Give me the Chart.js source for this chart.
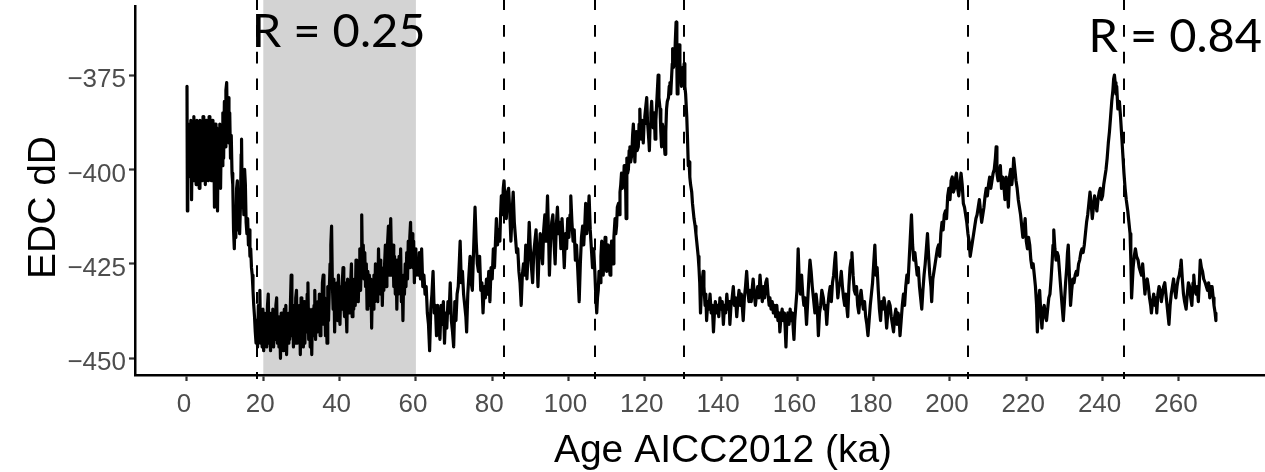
<!DOCTYPE html>
<html>
<head>
<meta charset="utf-8">
<script src="https://cdn.jsdelivr.net/npm/chart.js@4.4.1/dist/chart.umd.min.js"></script>
<style>
  html, body { margin: 0; padding: 0; background: #fff; }
  canvas { display: block; }
</style>
</head>
<body>
<canvas id="edcChart" width="1265" height="472"></canvas>
<script>
// EDC deuterium record, [age ka, dD permil]
const dD_0to60 = [
  [0.0,-378],[0.1,-411],[0.2,-390],[0.4,-402],[0.6,-388],[0.8,-401],[1.0,-387],[1.2,-408],[1.4,-389],[1.6,-403],
  [1.8,-386],[2.0,-400],[2.2,-388],[2.4,-404],[2.6,-387],[2.8,-401],[3.0,-389],[3.2,-405],[3.4,-387],[3.6,-400],
  [3.8,-388],[4.0,-403],[4.2,-386],[4.4,-401],[4.6,-389],[4.8,-404],[5.0,-387],[5.2,-399],[5.4,-388],[5.6,-403],
  [5.8,-386],[6.0,-402],[6.2,-389],[6.4,-403],[6.6,-387],[6.8,-400],[7.0,-390],[7.2,-410],[7.4,-388],[7.6,-402],
  [7.8,-389],[8.0,-411],[8.2,-390],[8.4,-401],[8.6,-388],[8.8,-405],[9.0,-390],[9.2,-399],[9.4,-385],[9.6,-397],
  [9.8,-382],[10.0,-394],[10.2,-379],[10.4,-377],[10.6,-390],[10.8,-381],[11.0,-393],[11.2,-385],[11.4,-397],[11.6,-391],
  [11.8,-401],[12.0,-404],[12.2,-416],[12.4,-421],[12.6,-412],[12.8,-418],[13.0,-405],[13.2,-403],[13.4,-416],[13.6,-411],
  [13.8,-417],[14.0,-410],[14.2,-396],[14.3,-392],[14.5,-410],[14.7,-406],[14.9,-412],[15.1,-400],[15.3,-404],[15.5,-414],
  [15.7,-417],[15.9,-413],[16.1,-420],[16.3,-416],[16.5,-423],[16.7,-421],[16.9,-426],[17.1,-428],[17.3,-432],[17.5,-436],
  [17.7,-439],[17.9,-443],[18.1,-446],[18.3,-441],[18.5,-447],[18.7,-436],[18.9,-445],[19.1,-432],[19.3,-446],[19.5,-439],
  [19.7,-447],[19.9,-437],[20.1,-448],[20.3,-438],[20.5,-445],[20.7,-440],[20.9,-447],[21.1,-436],[21.3,-433],[21.5,-446],
  [21.7,-439],[21.9,-448],[22.1,-438],[22.3,-446],[22.5,-437],[22.7,-447],[22.9,-440],[23.1,-445],[23.3,-436],[23.5,-434],
  [23.7,-446],[23.9,-439],[24.1,-447],[24.3,-441],[24.5,-450],[24.7,-438],[24.9,-447],[25.1,-440],[25.3,-448],[25.5,-437],
  [25.7,-446],[25.9,-436],[26.1,-449],[26.3,-440],[26.5,-446],[26.7,-438],[26.9,-445],[27.1,-436],[27.3,-428],[27.5,-444],
  [27.7,-437],[27.9,-447],[28.1,-436],[28.3,-446],[28.5,-434],[28.7,-432],[28.9,-446],[29.1,-437],[29.3,-445],[29.5,-436],
  [29.7,-449],[29.9,-434],[30.1,-444],[30.3,-437],[30.5,-447],[30.7,-435],[30.9,-446],[31.1,-436],[31.3,-443],[31.5,-433],
  [31.7,-430],[31.9,-445],[32.1,-437],[32.3,-447],[32.5,-438],[32.7,-449],[32.9,-437],[33.1,-444],[33.3,-436],[33.5,-432],
  [33.7,-445],[33.9,-436],[34.1,-443],[34.3,-435],[34.5,-442],[34.7,-433],[34.9,-444],[35.1,-435],[35.3,-441],[35.5,-430],
  [35.7,-428],[35.9,-441],[36.1,-434],[36.3,-444],[36.5,-435],[36.7,-446],[36.9,-431],[37.1,-440],[37.3,-432],[37.5,-425],
  [37.7,-420],[37.9,-415],[38.1,-430],[38.3,-437],[38.5,-429],[38.7,-443],[38.9,-431],[39.1,-438],[39.3,-430],[39.5,-440],
  [39.7,-428],[39.9,-437],[40.1,-441],[40.3,-431],[40.5,-437],[40.7,-430],[40.9,-426],[41.1,-436],[41.3,-439],[41.5,-430],
  [41.7,-437],[41.9,-443],[42.1,-429],[42.3,-436],[42.5,-431],[42.7,-438],[42.9,-430],[43.1,-425],[43.3,-439],[43.5,-431],
  [43.7,-437],[43.9,-429],[44.1,-436],[44.3,-424],[44.5,-434],[44.7,-428],[44.9,-435],[45.1,-427],[45.3,-421],[45.5,-432],
  [45.7,-424],[45.8,-412],[46.0,-426],[46.2,-420],[46.4,-429],[46.6,-422],[46.8,-431],[47.0,-425],[47.2,-437],[47.4,-427],
  [47.6,-434],[47.8,-428],[48.0,-436],[48.2,-429],[48.4,-442],[48.6,-430],[48.8,-437],[49.0,-428],[49.2,-435],[49.4,-425],
  [49.6,-433],[49.8,-428],[50.0,-435],[50.2,-421],[50.4,-430],[50.6,-424],[50.8,-433],[51.0,-426],[51.2,-436],[51.4,-427],
  [51.6,-432],[51.8,-425],[52.0,-420],[52.2,-431],[52.4,-425],[52.6,-419],[52.8,-415],[53.0,-428],[53.2,-421],[53.4,-413],
  [53.6,-424],[53.8,-428],[54.0,-420],[54.2,-431],[54.4,-423],[54.6,-433],[54.8,-424],[55.0,-437],[55.2,-426],[55.4,-433],
  [55.6,-423],[55.8,-430],[56.0,-421],[56.2,-435],[56.4,-429],[56.6,-440],[56.8,-428],[57.0,-433],[57.2,-425],[57.4,-431],
  [57.6,-422],[57.8,-429],[58.0,-419],[58.2,-426],[58.4,-418],[58.6,-414],[58.8,-424],[59.0,-417],[59.2,-426],[59.4,-419],
  [59.6,-430],[59.8,-421],[60.0,-428]
];

const dD_60to106 = [
  [60.3,-424],[60.6,-428],[60.9,-422],[61.2,-429],[61.5,-421],[61.8,-431],[62.1,-428],[62.4,-433],[62.7,-431],[63.0,-438],
  [63.3,-441],[63.6,-448],[63.9,-437],[64.2,-433],[64.5,-427],[64.8,-438],[65.1,-436],[65.4,-444],[65.7,-436],[66.0,-441],
  [66.3,-445],[66.6,-436],[66.9,-441],[67.2,-435],[67.5,-446],[67.8,-438],[68.1,-442],[68.4,-435],[68.7,-438],[69.0,-430],
  [69.3,-440],[69.6,-443],[69.9,-447],[70.2,-435],[70.5,-440],[70.8,-433],[71.1,-431],[71.4,-424],[71.6,-419],[71.9,-430],
  [72.2,-427],[72.5,-433],[72.8,-436],[73.1,-439],[73.3,-443],[73.6,-433],[73.9,-428],[74.2,-423],[74.5,-430],[74.8,-432],
  [75.1,-422],[75.3,-416],[75.5,-410],[75.8,-419],[76.1,-425],[76.4,-427],[76.7,-423],[77.0,-432],[77.3,-430],[77.6,-438],
  [77.9,-431],[78.2,-434],[78.5,-429],[78.8,-433],[79.1,-427],[79.4,-435],[79.7,-426],[80.0,-429],[80.3,-421],[80.6,-426],
  [80.9,-418],[81.1,-413],[81.4,-420],[81.7,-416],[82.0,-419],[82.2,-412],[82.4,-407],[82.7,-412],[82.9,-405],[83.1,-403],
  [83.4,-410],[83.7,-413],[84.0,-406],[84.3,-405],[84.6,-411],[84.9,-419],[85.2,-412],[85.5,-406],[85.8,-414],[86.1,-418],
  [86.4,-422],[86.7,-421],[87.0,-427],[87.3,-430],[87.6,-436],[87.9,-428],[88.2,-425],[88.5,-428],[88.8,-420],[89.1,-429],
  [89.4,-423],[89.7,-414],[90.0,-421],[90.3,-426],[90.6,-430],[90.9,-422],[91.2,-419],[91.5,-416],[91.8,-425],[92.0,-431],
  [92.3,-422],[92.6,-417],[92.9,-421],[93.2,-425],[93.5,-416],[93.8,-412],[94.1,-419],[94.3,-413],[94.5,-407],[94.8,-418],
  [95.0,-428],[95.3,-419],[95.6,-414],[95.9,-412],[96.2,-419],[96.5,-425],[96.8,-415],[97.1,-410],[97.4,-417],[97.7,-414],
  [98.0,-421],[98.3,-413],[98.6,-419],[98.9,-426],[99.2,-417],[99.5,-421],[99.8,-413],[100.1,-418],[100.4,-412],[100.6,-407],
  [100.9,-414],[101.2,-419],[101.5,-416],[101.8,-424],[102.1,-420],[102.4,-426],[102.8,-435],[103.1,-425],[103.4,-418],[103.7,-415],
  [104.0,-420],[104.3,-414],[104.5,-409],[104.8,-417],[105.1,-413],[105.4,-407],[105.7,-416],[106.0,-421],[106.3,-426]
];

const dD_106to160 = [
  [106.6,-421],[106.9,-427],[107.1,-432],[107.4,-438],[107.6,-434],[107.8,-432],[108.0,-427],[108.3,-430],[108.5,-423],[108.7,-419],
  [108.9,-426],[109.1,-428],[109.4,-421],[109.6,-418],[109.8,-425],[110.0,-427],[110.2,-421],[110.4,-420],[110.7,-426],[110.9,-428],
  [111.1,-422],[111.3,-419],[111.5,-424],[111.7,-425],[111.9,-418],[112.2,-413],[112.4,-417],[112.6,-415],[112.8,-410],[113.1,-409],
  [113.3,-412],[113.5,-406],[113.7,-404],[113.9,-401],[114.1,-405],[114.4,-404],[114.6,-399],[114.8,-400],[115.0,-406],[115.1,-413],
  [115.3,-397],[115.5,-401],[115.7,-400],[115.9,-395],[116.1,-394],[116.3,-398],[116.6,-396],[116.8,-391],[117.0,-388],[117.2,-393],
  [117.4,-398],[117.6,-392],[117.8,-390],[118.0,-395],[118.3,-394],[118.5,-388],[118.7,-384],[118.9,-390],[119.1,-392],[119.4,-387],
  [119.6,-393],[119.8,-388],[120.0,-386],[120.3,-383],[120.5,-381],[120.7,-387],[120.9,-390],[121.1,-393],[121.2,-395],[121.4,-388],
  [121.6,-385],[121.8,-382],[122.0,-387],[122.2,-389],[122.5,-385],[122.7,-392],[122.9,-387],[123.1,-383],[123.3,-379],[123.5,-375],
  [123.7,-381],[124.0,-384],[124.2,-390],[124.4,-394],[124.6,-388],[124.8,-389],[125.0,-392],[125.3,-396],[125.5,-390],[125.7,-384],
  [125.9,-382],[126.2,-381],[126.4,-378],[126.6,-377],[126.8,-380],[127.0,-376],[127.2,-372],[127.3,-368],[127.5,-373],[127.8,-372],
  [128.0,-366],[128.2,-361],[128.4,-372],[128.5,-380],[128.7,-374],[128.8,-370],[129.0,-367],[129.2,-372],[129.4,-375],[129.6,-378],
  [129.8,-374],[130.0,-373],[130.2,-376],[130.3,-372],[130.5,-378],[130.7,-380],[131.0,-386],[131.2,-392],[131.4,-399],[131.6,-398],
  [131.8,-402],[132.0,-404],[132.3,-406],[132.5,-409],[132.7,-411],[132.9,-413],[133.2,-415],[133.4,-417],[133.6,-419],[133.8,-421],
  [134.0,-423],[134.2,-426],[134.4,-430],[134.6,-438],[134.8,-433],[135.0,-430],[135.3,-427],[135.5,-431],[135.8,-436],[136.0,-433],
  [136.2,-440],[136.5,-435],[136.8,-437],[137.1,-433],[137.4,-438],[137.7,-436],[138.0,-443],[138.3,-437],[138.5,-435],[138.8,-438],
  [139.1,-436],[139.4,-439],[139.7,-434],[140.0,-437],[140.3,-435],[140.6,-441],[140.9,-436],[141.2,-438],[141.5,-433],[141.8,-437],
  [142.1,-435],[142.3,-441],[142.6,-436],[142.9,-434],[143.2,-431],[143.5,-436],[143.8,-434],[144.1,-439],[144.4,-435],[144.7,-432],
  [145.0,-436],[145.3,-433],[145.6,-437],[145.8,-440],[146.1,-434],[146.4,-431],[146.7,-427],[147.0,-432],[147.3,-435],[147.6,-432],
  [147.9,-435],[148.2,-431],[148.4,-429],[148.7,-433],[149.0,-436],[149.3,-433],[149.6,-431],[149.9,-434],[150.2,-428],[150.5,-432],
  [150.8,-435],[151.1,-431],[151.4,-434],[151.7,-430],[152.0,-429],[152.3,-433],[152.6,-436],[152.8,-434],[153.1,-437],[153.4,-435],
  [153.7,-438],[154.0,-436],[154.3,-439],[154.6,-436],[154.9,-440],[155.2,-438],[155.4,-443],[155.7,-439],[156.0,-437],[156.3,-440],
  [156.6,-438],[156.8,-442],[157.0,-447],[157.2,-441],[157.5,-438],[157.8,-441],[158.1,-437],[158.4,-440],[158.7,-438],[158.9,-442],
  [159.1,-445],[159.3,-440],[159.6,-436],[159.9,-432],[160.2,-421]
];

const dD_160to214 = [
  [160.5,-430],[160.8,-433],[161.1,-428],[161.4,-433],[161.7,-436],[162.0,-434],[162.4,-441],[162.7,-435],[163.0,-429],[163.3,-424],
  [163.6,-427],[163.9,-431],[164.2,-434],[164.6,-438],[164.9,-433],[165.2,-436],[165.5,-444],[165.8,-438],[166.1,-436],[166.4,-432],
  [166.8,-434],[167.1,-437],[167.4,-436],[167.7,-441],[168.0,-436],[168.3,-433],[168.6,-431],[168.9,-435],[169.2,-430],[169.5,-428],
  [169.8,-424],[170.0,-422],[170.3,-429],[170.6,-434],[170.9,-431],[171.2,-430],[171.5,-427],[171.8,-431],[172.1,-434],[172.4,-436],
  [172.7,-433],[173.0,-437],[173.2,-439],[173.5,-431],[173.8,-426],[174.1,-424],[174.3,-422],[174.6,-428],[174.9,-432],[175.2,-433],
  [175.5,-431],[175.8,-436],[176.1,-438],[176.4,-434],[176.7,-432],[177.0,-435],[177.3,-437],[177.6,-435],[177.9,-439],[178.2,-441],
  [178.5,-444],[178.8,-440],[179.1,-436],[179.4,-433],[179.7,-430],[180.0,-425],[180.3,-420],[180.6,-428],[180.9,-426],[181.2,-432],
  [181.5,-437],[181.8,-440],[182.1,-435],[182.4,-437],[182.7,-434],[183.0,-436],[183.4,-442],[183.7,-438],[184.0,-435],[184.3,-436],
  [184.6,-439],[184.9,-441],[185.2,-443],[185.5,-439],[185.8,-437],[186.1,-441],[186.4,-438],[186.7,-440],[186.9,-444],[187.2,-440],
  [187.5,-436],[187.8,-433],[188.1,-436],[188.4,-431],[188.7,-428],[189.0,-430],[189.3,-424],[189.6,-418],[189.9,-412],[190.2,-420],
  [190.5,-424],[190.8,-422],[191.1,-425],[191.4,-428],[191.7,-426],[192.0,-431],[192.3,-434],[192.6,-437],[192.9,-432],[193.2,-428],
  [193.5,-425],[193.8,-421],[194.1,-417],[194.4,-423],[194.7,-428],[195.0,-431],[195.2,-435],[195.5,-429],[195.8,-427],[196.1,-425],
  [196.4,-423],[196.7,-421],[197.0,-420],[197.3,-423],[197.6,-417],[197.9,-414],[198.2,-416],[198.5,-412],[198.8,-411],[199.1,-413],
  [199.4,-407],[199.7,-405],[200.0,-408],[200.3,-403],[200.6,-402],[200.9,-406],[201.2,-405],[201.5,-402],[201.7,-401],[202.0,-405],
  [202.3,-407],[202.6,-404],[202.9,-401],[203.2,-404],[203.5,-409],[203.8,-410],[204.1,-412],[204.4,-414],[204.7,-417],[205.0,-419],
  [205.3,-423],[205.6,-421],[205.9,-419],[206.2,-417],[206.5,-415],[206.8,-413],[207.1,-412],[207.4,-410],[207.7,-408],[208.0,-411],
  [208.3,-414],[208.6,-412],[208.9,-410],[209.2,-407],[209.5,-405],[209.8,-407],[210.1,-404],[210.4,-402],[210.7,-405],[211.0,-403],
  [211.3,-401],[211.6,-400],[211.9,-397],[212.1,-394],[212.3,-401],[212.6,-403],[212.9,-401],[213.2,-399],[213.5,-405],[213.8,-402]
];

const dD_214to270 = [
  [214.1,-404],[214.4,-408],[214.7,-402],[215.0,-405],[215.3,-410],[215.6,-402],[215.9,-400],[216.2,-404],[216.5,-401],[216.7,-397],
  [217.0,-400],[217.3,-403],[217.6,-405],[217.9,-408],[218.2,-410],[218.5,-412],[218.8,-415],[219.1,-418],[219.4,-416],[219.7,-413],
  [220.0,-419],[220.3,-421],[220.6,-418],[220.9,-420],[221.2,-424],[221.5,-426],[221.8,-425],[222.1,-428],[222.4,-431],[222.7,-436],
  [222.9,-443],[223.2,-435],[223.5,-432],[223.8,-438],[224.1,-442],[224.4,-437],[224.7,-436],[225.0,-439],[225.3,-440],[225.6,-437],
  [225.9,-434],[226.2,-433],[226.5,-429],[226.8,-424],[227.0,-420],[227.2,-416],[227.5,-421],[227.8,-424],[228.1,-422],[228.4,-423],
  [228.7,-427],[229.0,-431],[229.3,-435],[229.7,-440],[230.0,-435],[230.3,-430],[230.6,-426],[230.8,-422],[231.0,-420],[231.3,-428],
  [231.6,-436],[231.9,-432],[232.2,-429],[232.5,-430],[232.8,-428],[233.1,-427],[233.4,-428],[233.7,-425],[234.0,-424],[234.3,-422],
  [234.6,-421],[234.9,-422],[235.2,-420],[235.5,-417],[235.8,-414],[236.1,-412],[236.4,-409],[236.7,-406],[237.0,-409],[237.3,-413],
  [237.6,-410],[237.9,-407],[238.2,-409],[238.5,-411],[238.8,-408],[239.1,-406],[239.4,-405],[239.7,-408],[240.0,-407],[240.3,-404],
  [240.6,-402],[240.9,-400],[241.2,-397],[241.5,-393],[241.8,-390],[242.1,-386],[242.4,-382],[242.7,-379],[242.9,-376],[243.1,-375],
  [243.3,-377],[243.5,-380],[243.7,-378],[244.0,-384],[244.2,-383],[244.4,-382],[244.7,-386],[245.0,-391],[245.3,-396],[245.6,-401],
  [245.9,-405],[246.2,-408],[246.6,-411],[246.9,-414],[247.2,-417],[247.4,-424],[247.6,-434],[247.8,-430],[248.0,-426],[248.3,-423],
  [248.6,-421],[248.9,-423],[249.3,-424],[249.6,-426],[249.9,-427],[250.2,-428],[250.5,-425],[250.8,-429],[251.1,-433],[251.4,-430],
  [251.7,-429],[252.0,-431],[252.3,-434],[252.6,-436],[252.8,-438],[253.1,-435],[253.4,-433],[253.7,-436],[254.0,-434],[254.2,-438],
  [254.5,-433],[254.8,-431],[255.1,-432],[255.4,-435],[255.7,-433],[256.0,-431],[256.3,-430],[256.6,-433],[256.9,-436],[257.2,-439],
  [257.4,-441],[257.7,-436],[258.0,-433],[258.3,-431],[258.6,-429],[258.9,-432],[259.2,-434],[259.5,-431],[259.8,-429],[260.1,-428],
  [260.4,-426],[260.6,-424],[260.9,-429],[261.2,-433],[261.5,-435],[261.9,-437],[262.2,-433],[262.5,-430],[262.8,-431],[263.1,-434],
  [263.4,-436],[263.7,-430],[263.9,-428],[264.2,-432],[264.5,-433],[264.8,-431],[265.1,-435],[265.4,-429],[265.6,-424],[265.9,-426],
  [266.2,-427],[266.5,-429],[266.9,-430],[267.2,-431],[267.5,-432],[267.8,-430],[268.1,-434],[268.4,-431],[268.7,-431],[269.0,-434],
  [269.2,-436],[269.5,-438],[269.7,-440]
];

const xTicks = [0, 20, 40, 60, 80, 100, 120, 140, 160, 180, 200, 220, 240, 260];
const yTicks = [-450, -425, -400, -375];
const shadedAges = [20, 60];
const markerAges = [18.3, 83.1, 106.9, 130.4, 204.8, 245.6];
const rLabels = ["R = 0.25", "R = 0.84"];
const xTitle = "Age AICC2012 (ka)";
const yTitle = "EDC dD";

const edcRecord = [].concat(dD_0to60, dD_60to106, dD_106to160, dD_160to214, dD_214to270);

/**************************************
 *   SHADING, DASHED MARKERS, TEXTS
 **************************************/
const decorations = {
  id: "decorations",
  beforeDraw(chart) {
    const { ctx, chartArea, scales } = chart;
    const x = scales.x;
    ctx.save();
    // grey band
    const x0 = x.getPixelForValue(shadedAges[0]);
    const x1 = x.getPixelForValue(shadedAges[1]);
    ctx.fillStyle = "#d3d3d3";
    ctx.fillRect(x0, 0, x1 - x0, chartArea.bottom);
    // dashed vertical lines
    ctx.strokeStyle = "#000";
    ctx.lineWidth = 2;
    ctx.setLineDash([11.7, 15]);
    ctx.lineDashOffset = 1.7;
    markerAges.forEach((age) => {
      const px = Math.round(x.getPixelForValue(age));
      ctx.beginPath();
      ctx.moveTo(px, 0);
      ctx.lineTo(px, chartArea.bottom + 4);
      ctx.stroke();
    });
    ctx.restore();
  },
  afterDraw(chart) {
    const { ctx, scales } = chart;
    ctx.save();
    ctx.fillStyle = "#000";
    ctx.textBaseline = "alphabetic";

    ctx.font = '47px "Lato"';
    ctx.textAlign = "left";
    ctx.fillText(rLabels[0], scales.x.getPixelForValue(17.0), scales.y.getPixelForValue(-367.5));
    ctx.fillText(rLabels[1], scales.x.getPixelForValue(236.3), scales.y.getPixelForValue(-368.8));

    ctx.font = '39px "Liberation Sans"';
    ctx.textAlign = "center";
    ctx.fillText(xTitle, 723, 462);

    ctx.translate(55, 207.5);
    ctx.rotate(-Math.PI / 2);
    ctx.fillText(yTitle, 0, 0);
    ctx.restore();
  }
};

/**************************************
 *              CHART
 **************************************/
function initializeChart() {
  const ctx = document.getElementById("edcChart").getContext("2d");
  new Chart(ctx, {
    type: "line",
    data: {
      datasets: [{
        data: edcRecord.map(([age, dD]) => ({ x: age, y: dD })),
        borderColor: "#000",
        borderWidth: 3.2,
        pointRadius: 0,
        tension: 0,
        fill: false,
        borderJoinStyle: "round",
        borderCapStyle: "round",
      }],
    },
    options: {
      responsive: false,
      animation: false,
      devicePixelRatio: 1,
      layout: { padding: { top: 6, left: 0, right: 0, bottom: 0 } },
      plugins: { legend: { display: false }, tooltip: { enabled: false } },
      scales: {
        x: {
          type: "linear",
          min: -13.63,
          max: 282.57,
          afterBuildTicks: (axis) => { axis.ticks = xTicks.map((v) => ({ value: v })); },
          afterFit: (scale) => {
            scale.height = 97;
            scale.paddingLeft = 0;
            scale.paddingRight = 0;
          },
          ticks: {
            color: "#4d4d4d",
            font: { family: "Liberation Sans", size: 26 },
            padding: 8,
            labelOffset: -3,
            maxRotation: 0,
            autoSkip: false,
          },
          grid: { drawOnChartArea: false, tickLength: 6, tickWidth: 2.2, tickColor: "#333" },
          border: { color: "#000", width: 2.5 },
        },
        y: {
          type: "linear",
          min: -454.42,
          max: -356.73,
          afterBuildTicks: (axis) => { axis.ticks = yTicks.map((v) => ({ value: v })); },
          afterFit: (scale) => {
            scale.width = 135;
            scale.paddingTop = 0;
            scale.paddingBottom = 0;
          },
          ticks: {
            color: "#4d4d4d",
            font: { family: "Liberation Sans", size: 26 },
            padding: 3,
            labelOffset: 5,
            autoSkip: false,
            callback: (v) => "\u2212" + Math.abs(v),
          },
          grid: { drawOnChartArea: false, tickLength: 6, tickWidth: 2.2, tickColor: "#333" },
          border: { color: "#000", width: 2.5 },
        },
      },
    },
    plugins: [decorations],
  });
}

window.onload = () => {
  initializeChart();
};
</script>
</body>
</html>
